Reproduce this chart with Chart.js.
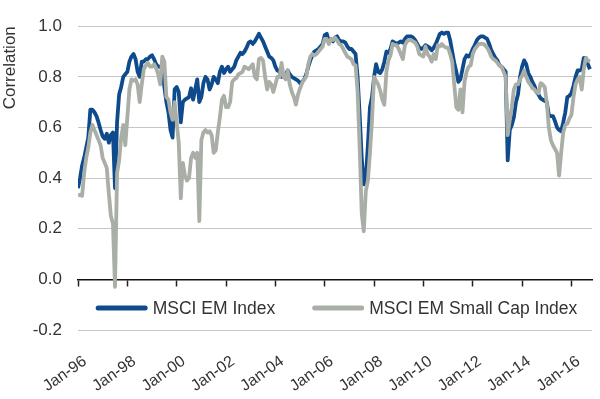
<!DOCTYPE html>
<html>
<head>
<meta charset="utf-8">
<script src="https://cdn.jsdelivr.net/npm/chart.js@4.4.1/dist/chart.umd.min.js"></script>
<style>
  html, body { margin: 0; padding: 0; background: #fff; }
  #wrap { width: 600px; height: 399px; }
</style>
</head>
<body>
<div id="wrap"><canvas id="chart" width="600" height="399"></canvas></div>
<script>
// monthly rolling correlation, Jan-96 .. Oct-16 (index 0 = Jan-96)
const emIndex = [
  0.36, 0.40, 0.45, 0.48, 0.52, 0.56, 0.67, 0.67, 0.66, 0.645,
  0.62, 0.59, 0.565, 0.555, 0.575, 0.54, 0.57, 0.58, 0.36, 0.62,
  0.73, 0.76, 0.80, 0.81, 0.82, 0.86, 0.88, 0.89, 0.87, 0.82,
  0.80, 0.86, 0.86, 0.87, 0.87, 0.88, 0.885, 0.87, 0.85, 0.84,
  0.84, 0.83, 0.76, 0.70, 0.66, 0.59, 0.56, 0.75, 0.76, 0.74,
  0.62, 0.70, 0.71, 0.715, 0.72, 0.755, 0.71, 0.75, 0.79, 0.70,
  0.72, 0.775, 0.80, 0.79, 0.75, 0.77, 0.80, 0.79, 0.775, 0.82,
  0.84, 0.815, 0.83, 0.84, 0.82, 0.83, 0.84, 0.865, 0.88, 0.895,
  0.89, 0.90, 0.915, 0.935, 0.94, 0.93, 0.94, 0.955, 0.97, 0.955,
  0.94, 0.92, 0.90, 0.88, 0.875, 0.865, 0.84, 0.825, 0.82, 0.80,
  0.805, 0.81, 0.825, 0.81, 0.80, 0.795, 0.79, 0.785, 0.775, 0.78,
  0.79, 0.81, 0.84, 0.865, 0.885, 0.90, 0.905, 0.91, 0.92, 0.93,
  0.965, 0.97, 0.94, 0.95, 0.94, 0.955, 0.96, 0.945, 0.94, 0.94,
  0.935, 0.92, 0.91, 0.91, 0.90, 0.89, 0.80, 0.65, 0.48, 0.375,
  0.40, 0.53, 0.68, 0.72, 0.80, 0.85, 0.82, 0.815, 0.83, 0.86,
  0.90, 0.895, 0.91, 0.94, 0.935, 0.93, 0.935, 0.94, 0.935, 0.95,
  0.96, 0.96, 0.96, 0.955, 0.945, 0.93, 0.915, 0.91, 0.915, 0.925,
  0.92, 0.915, 0.905, 0.915, 0.93, 0.95, 0.97, 0.975, 0.97, 0.975,
  0.975, 0.945, 0.90, 0.855, 0.82, 0.78, 0.79, 0.83, 0.87, 0.885,
  0.88, 0.89, 0.91, 0.925, 0.945, 0.955, 0.96, 0.96, 0.955, 0.95,
  0.93, 0.905, 0.89, 0.875, 0.865, 0.845, 0.84, 0.83, 0.82, 0.47,
  0.59, 0.61, 0.64, 0.70, 0.73, 0.80, 0.84, 0.865, 0.85, 0.815,
  0.80, 0.78, 0.765, 0.74, 0.73, 0.715, 0.71, 0.705, 0.70, 0.65,
  0.645, 0.645, 0.625, 0.60, 0.59, 0.585, 0.62, 0.66, 0.72, 0.725,
  0.735, 0.765, 0.80, 0.825, 0.825, 0.83, 0.875, 0.875, 0.85, 0.83
];

const emSmallCap = [
  0.33, 0.335, 0.33, 0.42, 0.48, 0.52, 0.58, 0.61, 0.59, 0.57,
  0.55, 0.53, 0.48, 0.46, 0.44, 0.34, 0.25, 0.22, -0.03, 0.42,
  0.47, 0.56, 0.61, 0.53, 0.64, 0.75, 0.79, 0.785, 0.79, 0.77,
  0.70, 0.77, 0.83, 0.845, 0.855, 0.84, 0.84, 0.85, 0.835, 0.81,
  0.77, 0.88, 0.86, 0.72, 0.71, 0.66, 0.63, 0.70, 0.62, 0.54,
  0.32, 0.46, 0.41, 0.39, 0.40, 0.48, 0.50, 0.48, 0.50, 0.23,
  0.55, 0.58, 0.59, 0.58, 0.585, 0.57, 0.50, 0.51, 0.58, 0.64,
  0.71, 0.725, 0.68, 0.68, 0.70, 0.78, 0.79, 0.795, 0.81, 0.815,
  0.82, 0.84, 0.835, 0.83, 0.84, 0.85, 0.80, 0.79, 0.87, 0.875,
  0.865, 0.80, 0.75, 0.78, 0.77, 0.74, 0.77, 0.80, 0.80, 0.855,
  0.80, 0.79, 0.825, 0.77, 0.74, 0.72, 0.69, 0.73, 0.755, 0.775,
  0.79, 0.80, 0.85, 0.88, 0.89, 0.885, 0.89, 0.90, 0.91, 0.92,
  0.95, 0.95, 0.93, 0.95, 0.945, 0.955, 0.945, 0.93, 0.925, 0.91,
  0.895, 0.88, 0.875, 0.87, 0.85, 0.845, 0.74, 0.52, 0.26, 0.19,
  0.35, 0.39, 0.50, 0.63, 0.80, 0.785, 0.77, 0.745, 0.71, 0.69,
  0.82, 0.865, 0.885, 0.93, 0.925, 0.925, 0.91, 0.89, 0.87, 0.925,
  0.94, 0.945, 0.945, 0.94, 0.935, 0.92, 0.89, 0.885, 0.88, 0.92,
  0.89, 0.88, 0.86, 0.89, 0.87, 0.925, 0.92, 0.93, 0.92, 0.915,
  0.915, 0.89, 0.86, 0.77, 0.68, 0.67, 0.75, 0.66, 0.78, 0.82,
  0.84, 0.845, 0.89, 0.91, 0.92, 0.93, 0.93, 0.93, 0.925, 0.915,
  0.90, 0.88, 0.87, 0.865, 0.855, 0.845, 0.84, 0.82, 0.80, 0.57,
  0.63, 0.68, 0.75, 0.77, 0.77, 0.79, 0.805, 0.825, 0.80, 0.78,
  0.77, 0.755, 0.75, 0.74, 0.735, 0.775, 0.77, 0.76, 0.70, 0.60,
  0.55, 0.53, 0.515, 0.50, 0.41, 0.50, 0.58, 0.61, 0.615, 0.635,
  0.65, 0.72, 0.77, 0.79, 0.80, 0.75, 0.83, 0.875, 0.865, 0.86
];

const tickMonths = [0, 24, 48, 72, 96, 120, 144, 168, 192, 216, 240];
const tickLabels = ['Jan-96', 'Jan-98', 'Jan-00', 'Jan-02', 'Jan-04', 'Jan-06',
                    'Jan-08', 'Jan-10', 'Jan-12', 'Jan-14', 'Jan-16'];
const seriesNames = ['MSCI EM Index', 'MSCI EM Small Cap Index'];

const FONT = '"Liberation Sans", Arial, Helvetica, sans-serif';
const BLUE = '#0E4A8C';
const GREY = '#A9AEA6';
const TEXT = '#333333';

function toPoints(arr) {
  return arr.map((v, i) => ({ x: i, y: v }));
}

function setTicks(scale) {
  scale.ticks = tickMonths.map(v => ({ value: v }));
}

// legend drawn inside the plot, just above the -0.2 gridline
const insideLegend = {
  id: 'insideLegend',
  afterDatasetsDraw(chart) {
    const { ctx, chartArea } = chart;
    const sample = 52, gap = 5, itemGap = 37;
    ctx.save();
    ctx.font = '17.5px ' + FONT;
    const items = chart.data.datasets.map(ds => ({
      label: ds.label, color: ds.borderColor, w: ctx.measureText(ds.label).width
    }));
    let total = 0;
    items.forEach((it, i) => { total += sample + gap + it.w + (i ? itemGap : 0); });
    let x = (chartArea.left + chartArea.right) / 2 + 1.5 - total / 2;
    const y = chartArea.bottom - 22;
    items.forEach(it => {
      ctx.strokeStyle = it.color;
      ctx.lineWidth = 5;
      ctx.lineCap = 'round';
      ctx.beginPath();
      ctx.moveTo(x + 2.5, y);
      ctx.lineTo(x + sample - 2.5, y);
      ctx.stroke();
      ctx.fillStyle = TEXT;
      ctx.textBaseline = 'middle';
      ctx.textAlign = 'left';
      ctx.fillText(it.label, x + sample + gap, y + 1);
      x += sample + gap + it.w + itemGap;
    });
    ctx.restore();
  }
};

new Chart(document.getElementById('chart'), {
  type: 'line',
  data: {
    datasets: [
      {
        label: seriesNames[0],
        data: toPoints(emIndex),
        borderColor: BLUE,
        borderWidth: 3.8,
        pointRadius: 0,
        tension: 0,
        borderJoinStyle: 'round',
        order: 1
      },
      {
        label: seriesNames[1],
        data: toPoints(emSmallCap),
        borderColor: GREY,
        borderWidth: 3.8,
        pointRadius: 0,
        tension: 0,
        borderJoinStyle: 'round',
        order: 0
      }
    ]
  },
  options: {
    responsive: false,
    animation: false,
    devicePixelRatio: 1,
    layout: { padding: { left: 0, right: 8, top: 20, bottom: 0 } },
    plugins: {
      legend: { display: false },
      tooltip: { enabled: false }
    },
    scales: {
      x: {
        type: 'linear',
        position: 'bottom',
        min: 0,
        max: 250,
        afterBuildTicks: setTicks,
        afterFit: s => { s.height = 69; },
        grid: { display: false },
        border: { display: false },
        ticks: {
          autoSkip: false,
          minRotation: 35,
          maxRotation: 35,
          padding: 14,
          labelOffset: 7,
          color: TEXT,
          font: { family: FONT, size: 16 },
          callback: (v) => tickLabels[tickMonths.indexOf(v)]
        }
      },
      // axis line and tick marks at zero
      x0: {
        type: 'linear',
        position: { y: 0 },
        min: 0,
        max: 250,
        afterBuildTicks: setTicks,
        grid: {
          drawOnChartArea: false,
          drawTicks: true,
          tickLength: 6,
          tickWidth: 1.5,
          tickColor: '#222'
        },
        border: { display: true, color: '#111', width: 1.5 },
        ticks: { display: false }
      },
      y: {
        min: -0.2,
        max: 1.0,
        afterFit: s => { s.width = 78; },
        grid: {
          drawTicks: false,
          lineWidth: 1,
          color: c => Math.abs(c.tick.value) < 1e-9 ? 'rgba(0,0,0,0)' : '#C6C6C6'
        },
        border: { display: false },
        ticks: {
          stepSize: 0.2,
          padding: 16,
          color: TEXT,
          font: { family: FONT, size: 17 },
          callback: v => Math.abs(v) < 1e-9 ? '0.0' : v.toFixed(1)
        },
        title: {
          display: true,
          text: 'Correlation',
          align: 'end',
          color: TEXT,
          padding: { top: 0, bottom: 0 },
          font: { family: FONT, size: 17 }
        }
      }
    }
  },
  plugins: [insideLegend]
});
</script>
</body>
</html>
